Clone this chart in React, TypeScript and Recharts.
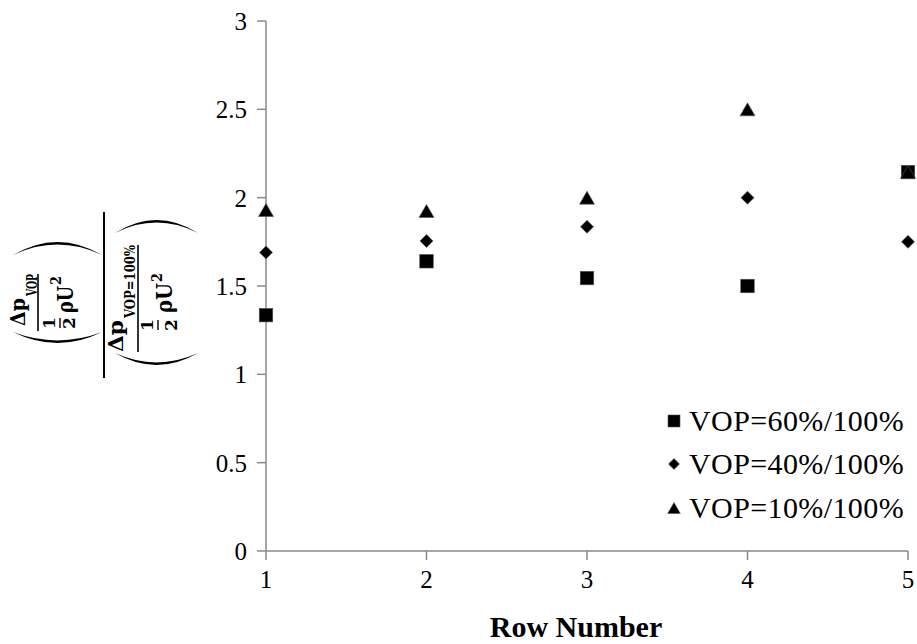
import React from "react";
import { Legend, Scatter, ScatterChart, XAxis, YAxis } from "recharts";

// 横轴：排号；纵轴：压降比
const rows = [1, 2, 3, 4, 5];
const vop60 = [1.335, 1.64, 1.545, 1.5, 2.145];
const vop40 = [1.69, 1.755, 1.835, 2.0, 1.75];
const vop10 = [1.93, 1.925, 2.0, 2.5, 2.145];
const seriesNames = ["VOP=60%/100%", "VOP=40%/100%", "VOP=10%/100%"];
const yTicks = [0, 0.5, 1, 1.5, 2, 2.5, 3];

type Kind = "square" | "diamond" | "triangle";
const kinds: Kind[] = ["square", "diamond", "triangle"];

const SERIF = "'Liberation Serif', 'Times New Roman', serif";
const MATH = "'DejaVu Serif', serif";
const AXIS = "#8a8a8a";

function toPoints(values: number[]) {
  return rows.map((row, i) => ({ row, value: values[i] }));
}

// 黑色实心标记：方块 / 菱形 / 三角
function Marker({ kind, cx, cy, s }: { kind: Kind; cx: number; cy: number; s: number }) {
  const edge = { fill: "#000", stroke: "#555", strokeWidth: 0.6 };
  if (kind === "square") {
    return <rect x={cx - s / 2} y={cy - s / 2} width={s} height={s} {...edge} />;
  }
  if (kind === "diamond") {
    const h = s / 2;
    return <path d={`M${cx} ${cy - h}L${cx + h} ${cy}L${cx} ${cy + h}L${cx - h} ${cy}Z`} {...edge} />;
  }
  const w = (s * 1.15) / 2;
  const h = s / 2;
  return <path d={`M${cx} ${cy - h}L${cx + w} ${cy + h}L${cx - w} ${cy + h}Z`} {...edge} />;
}

const markerSize: Record<Kind, number> = { square: 13.5, diamond: 13, triangle: 13 };

function shapeFor(kind: Kind) {
  return (p: any) => <Marker kind={kind} cx={p.cx} cy={p.cy} s={markerSize[kind]} />;
}

// 分式中一项：Δp_sub / (1/2 ρU²)，坐标为旋转前的局部坐标
interface TermCfg {
  b: number;
  sub: string;
  dp: [number, number];
  subSpan: [number, number];
  bar: [number, number];
  half: number;
  rho: [number, number];
  sup: [number, number];
  dpBase: number;
  subBase: number;
  oneBase: number;
  halfBar: number;
  twoBase: number;
  rhoBase: number;
  supBase: number;
}

const numerCfg: TermCfg = {
  b: -66, sub: "VOP", dp: [-31, -3], subSpan: [-1, 21], bar: [-36, 21], half: -28,
  rho: [-18, 9], sup: [10, 19], dpBase: -13, subBase: -1, oneBase: 17, halfBar: 22,
  twoBase: 37, rhoBase: 35, supBase: 23,
};

const denomCfg: TermCfg = {
  b: 34, sub: "VOP=100%", dp: [-57, -25], subSpan: [-23, 50], bar: [-57, 50], half: -30,
  rho: [-18, 12], sup: [13, 22], dpBase: -15, subBase: -3, oneBase: 15, halfBar: 20,
  twoBase: 39, rhoBase: 34, supBase: 24,
};

function Term({ c }: { c: TermCfg }) {
  const t = { fontFamily: MATH, fontWeight: 700, fill: "#000" } as const;
  return (
    <g>
      <text x={c.dp[0]} y={c.b + c.dpBase} fontSize={20} textLength={c.dp[1] - c.dp[0]} lengthAdjust="spacingAndGlyphs" {...t}>Δp</text>
      <text x={c.subSpan[0]} y={c.b + c.subBase} fontSize={14} textLength={c.subSpan[1] - c.subSpan[0]} lengthAdjust="spacingAndGlyphs" {...t}>{c.sub}</text>
      <line x1={c.bar[0]} x2={c.bar[1]} y1={c.b} y2={c.b} stroke="#000" strokeWidth={1.6} />
      <text x={c.half} y={c.b + c.oneBase} fontSize={17} textAnchor="middle" {...t}>1</text>
      <line x1={c.half - 5} x2={c.half + 5} y1={c.b + c.halfBar} y2={c.b + c.halfBar} stroke="#000" strokeWidth={1.4} />
      <text x={c.half} y={c.b + c.twoBase} fontSize={17} textAnchor="middle" {...t}>2</text>
      <text x={c.rho[0]} y={c.b + c.rhoBase} fontSize={22} textLength={c.rho[1] - c.rho[0]} lengthAdjust="spacingAndGlyphs" {...t}>ρU</text>
      <text x={c.sup[0]} y={c.b + c.supBase} fontSize={14} textLength={c.sup[1] - c.sup[0]} lengthAdjust="spacingAndGlyphs" {...t}>2</text>
    </g>
  );
}

// 大括号：两条二次曲线围成的月牙形
function paren(end: number, apex: number, v1: number, v2: number) {
  const mid = (v1 + v2) / 2;
  const outer = 2 * apex - end;
  const dir = apex > end ? -1 : 1;
  const inner = 2 * (apex + dir * 2.6) - end;
  return `M${end} ${v1}Q${outer} ${mid} ${end} ${v2}Q${inner} ${mid} ${end} ${v1}Z`;
}

function FormulaLabel(props: any) {
  const vb = props.viewBox ?? { x: 0, y: 21, width: 266, height: 530 };
  const cx = vb.x + 104;
  const cy = vb.y + vb.height / 2 + 9;
  return (
    <g transform={`translate(${cx},${cy}) rotate(-90)`}>
      <path d={paren(40, 53, -91, -2)} fill="#000" />
      <path d={paren(-37, -48, -91, -2)} fill="#000" />
      <Term c={numerCfg} />
      <line x1={-83} x2={83} y1={0} y2={0} stroke="#000" strokeWidth={2} />
      <path d={paren(62, 75, 11, 94)} fill="#000" />
      <path d={paren(-58, -70, 11, 94)} fill="#000" />
      <Term c={denomCfg} />
    </g>
  );
}

function XTitle(props: any) {
  const vb = props.viewBox ?? { x: 266, y: 551, width: 642, height: 93 };
  return (
    <text x={vb.x + vb.width / 2 - 11} y={vb.y + 86} textAnchor="middle" fontFamily={SERIF} fontWeight={700} fontSize={30} fill="#000">
      Row Number
    </text>
  );
}

function LegendBox() {
  return (
    <div style={{ fontFamily: SERIF, fontSize: 30, color: "#000" }}>
      {seriesNames.map((name, i) => (
        <div key={name} style={{ display: "flex", alignItems: "center", height: 43.5 }}>
          <svg width={16} height={16} style={{ marginRight: 7, flex: "none" }}>
            <Marker kind={kinds[i]} cx={8} cy={8} s={kinds[i] === "square" ? 12 : 11} />
          </svg>
          <span style={{ lineHeight: 1, whiteSpace: "nowrap", letterSpacing: 0.4 }}>{name}</span>
        </div>
      ))}
    </div>
  );
}

const tickStyle = { fontSize: 25, fill: "#000", fontFamily: SERIF };

export default function App() {
  const series = [vop60, vop40, vop10];
  return (
    <div style={{ position: "fixed", left: 0, top: 0, width: 917, height: 644, background: "#fff" }}>
      <ScatterChart width={917} height={644} margin={{ top: 21, right: 9, bottom: 0, left: 0 }}>
        <XAxis
          dataKey="row"
          type="number"
          domain={[1, 5]}
          ticks={rows}
          interval={0}
          height={93}
          tickSize={9}
          tickMargin={10}
          tick={tickStyle}
          stroke={AXIS}
          axisLine={{ stroke: AXIS, strokeWidth: 1.5 }}
          tickLine={{ stroke: AXIS, strokeWidth: 1.5 }}
          label={<XTitle />}
        />
        <YAxis
          dataKey="value"
          type="number"
          domain={[0, 3]}
          ticks={yTicks}
          interval={0}
          width={266}
          tickSize={9}
          tickMargin={10}
          tick={tickStyle}
          stroke={AXIS}
          axisLine={{ stroke: AXIS, strokeWidth: 1.5 }}
          tickLine={{ stroke: AXIS, strokeWidth: 1.5 }}
          label={<FormulaLabel />}
        />
        {series.map((vals, i) => (
          <Scatter
            key={seriesNames[i]}
            name={seriesNames[i]}
            data={toPoints(vals)}
            fill="#000"
            shape={shapeFor(kinds[i])}
            isAnimationActive={false}
          />
        ))}
        <Legend
          layout="vertical"
          align="center"
          verticalAlign="middle"
          content={() => <LegendBox />}
          wrapperStyle={{ left: 666, top: 399, width: 251 }}
        />
      </ScatterChart>
    </div>
  );
}
